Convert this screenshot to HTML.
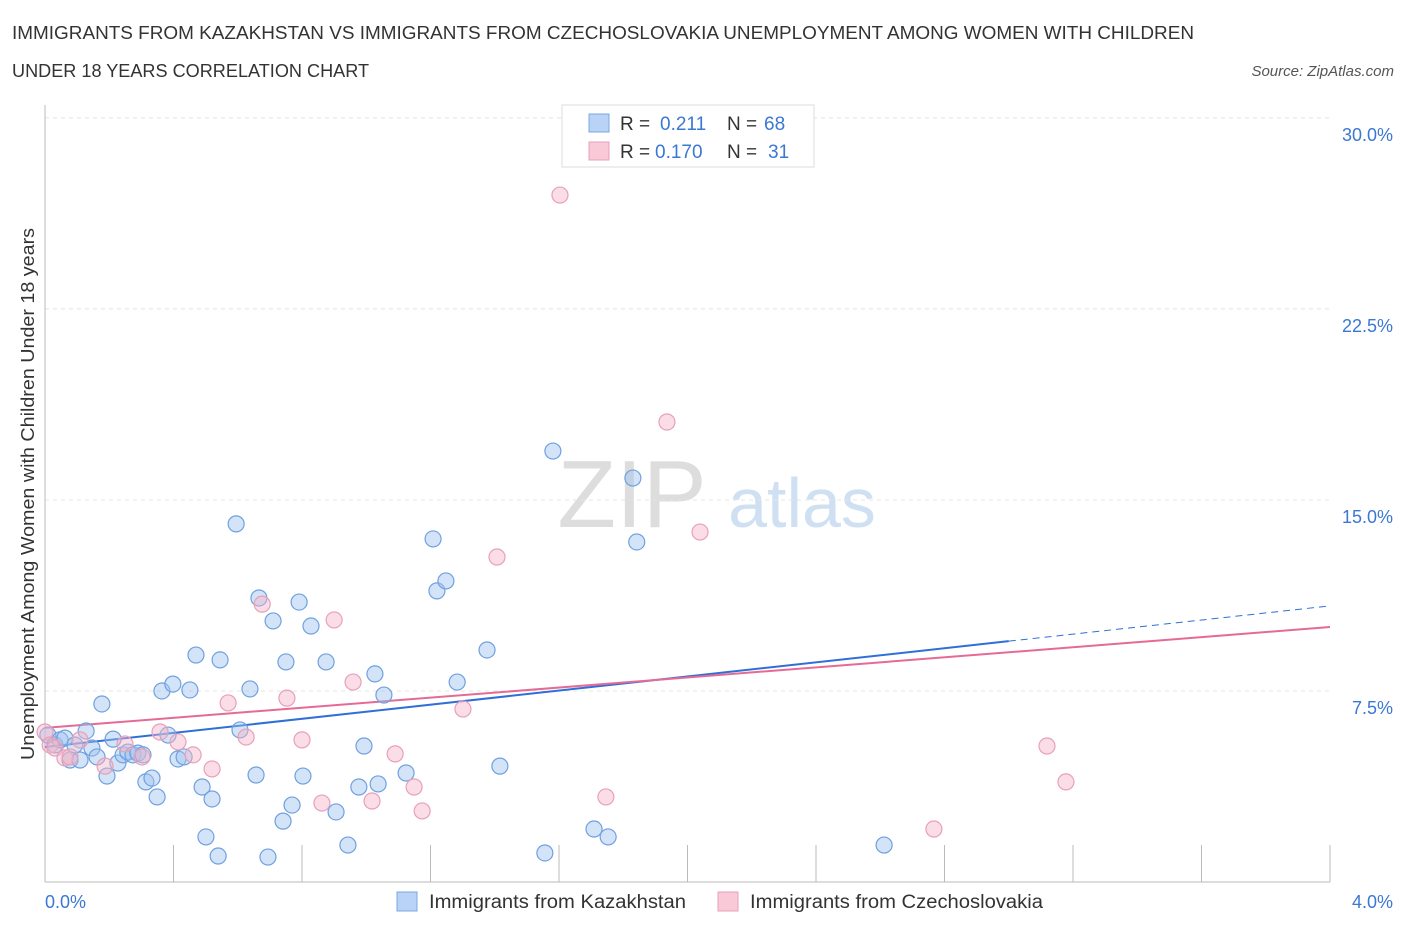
<!DOCTYPE html>
<html><head><meta charset="utf-8"><style>
body{margin:0;background:#fff;font-family:"Liberation Sans",sans-serif;}
svg text{font-family:"Liberation Sans",sans-serif;}
</style></head><body>
<svg id="chart" width="1406" height="930">
<text x="12" y="39" font-size="18" fill="#333" textLength="1182" lengthAdjust="spacingAndGlyphs">IMMIGRANTS FROM KAZAKHSTAN VS IMMIGRANTS FROM CZECHOSLOVAKIA UNEMPLOYMENT AMONG WOMEN WITH CHILDREN</text>
<text x="12" y="77" font-size="18" fill="#333" textLength="357" lengthAdjust="spacingAndGlyphs">UNDER 18 YEARS CORRELATION CHART</text>
<text x="1394" y="76" font-size="15" fill="#555" font-style="italic" text-anchor="end">Source: ZipAtlas.com</text>
<g>
<text x="632" y="527" font-size="96" fill="#ddd" font-family="Liberation Serif,serif" text-anchor="middle">ZIP</text>
<text x="802" y="527" font-size="70" fill="#cfe0f3" text-anchor="middle">atlas</text>
</g>
<g id="grid"></g><g id="axes"></g><g id="trends"></g><g id="points"></g>
<text x="34" y="494" font-size="18" fill="#333" text-anchor="middle" textLength="532" lengthAdjust="spacingAndGlyphs" transform="rotate(-90 34 494)">Unemployment Among Women with Children Under 18 years</text>
<g>
<rect x="562" y="105" width="252" height="62" fill="#fff" stroke="#ddd"/>
<rect x="589" y="114" width="20" height="18" fill="#b8d3f5" stroke="#7aa8e0"/>
<text x="620" y="130" font-size="19" fill="#333">R = </text><text x="660" y="130" font-size="19" fill="#3a78d4">0.211</text>
<text x="727" y="130" font-size="19" fill="#333">N = </text><text x="764" y="130" font-size="19" fill="#3a78d4">68</text>
<rect x="589" y="142" width="20" height="18" fill="#f9c9d8" stroke="#e8a0b8"/>
<text x="620" y="158" font-size="19" fill="#333">R = </text><text x="655" y="158" font-size="19" fill="#3a78d4">0.170</text>
<text x="727" y="158" font-size="19" fill="#333">N = </text><text x="768" y="158" font-size="19" fill="#3a78d4">31</text>
</g>
<g>
<rect x="397" y="892" width="20" height="19" fill="#b8d3f5" stroke="#7aa8e0"/>
<text x="429" y="908" font-size="19" fill="#333" textLength="257" lengthAdjust="spacingAndGlyphs">Immigrants from Kazakhstan</text>
<rect x="718" y="892" width="20" height="19" fill="#f9c9d8" stroke="#e8a0b8"/>
<text x="750" y="908" font-size="19" fill="#333" textLength="293" lengthAdjust="spacingAndGlyphs">Immigrants from Czechoslovakia</text>
</g>
</svg>
<script>
const blueX=[0.009,0.031,0.047,0.062,0.078,0.093,0.109,0.128,0.146,0.162,0.177,0.193,0.212,0.227,0.243,0.258,0.274,0.289,0.305,0.314,0.333,0.349,0.364,0.383,0.398,0.414,0.433,0.451,0.470,0.489,0.501,0.520,0.539,0.545,0.595,0.607,0.638,0.657,0.666,0.694,0.710,0.741,0.750,0.769,0.791,0.803,0.828,0.875,0.906,0.943,0.977,0.993,1.027,1.037,1.055,1.124,1.208,1.220,1.248,1.283,1.376,1.416,1.556,1.581,1.709,1.753,1.830,1.842,2.612];
const blueY=[5.77,5.38,5.58,5.65,4.79,5.38,4.79,5.93,5.26,4.91,6.99,4.16,5.61,4.67,4.99,5.10,4.99,5.06,4.99,3.93,4.08,3.34,7.50,5.77,7.77,4.83,4.91,7.54,8.91,3.73,1.77,3.26,1.02,8.72,14.06,5.97,7.58,4.20,11.15,0.98,10.25,2.39,8.64,3.02,10.99,4.16,10.05,8.64,2.75,1.45,3.73,5.34,8.17,3.85,7.34,4.28,13.47,11.43,11.82,7.85,9.11,4.55,1.14,16.92,2.08,1.77,15.86,13.35,1.45];
const pinkX=[0,0.016,0.031,0.062,0.078,0.109,0.187,0.249,0.302,0.358,0.414,0.461,0.520,0.570,0.626,0.676,0.753,0.800,0.862,0.900,0.959,1.018,1.090,1.149,1.174,1.301,1.407,1.603,1.746,1.936,2.039,2.767,3.119,3.178];
const pinkY=[5.89,5.38,5.26,4.87,4.91,5.58,4.55,5.42,4.91,5.89,5.50,4.99,4.44,7.03,5.69,10.91,7.22,5.58,3.10,10.29,7.85,3.18,5.03,3.73,2.79,6.79,12.76,26.97,3.34,18.06,13.74,2.08,5.34,3.93];
const blueTrend=[5.30,1.385]; // intercept, slope
const pinkTrend=[6.05,0.99];
const yTicks=[7.5,15,22.5,30];
const xTickVals=[0,0.4,0.8,1.2,1.6,2,2.4,2.8,3.2,3.6,4];
const NS="http://www.w3.org/2000/svg";
const X=v=>45+v*321.25, Y=v=>882-v*25.47;
function mk(t,a,p){const e=document.createElementNS(NS,t);for(const k in a)e.setAttribute(k,a[k]);p.appendChild(e);return e;}
const grid=document.getElementById('grid'),axes=document.getElementById('axes');
yTicks.forEach(v=>{
 const l=mk('line',{x1:45,x2:1330,y1:Y(v),y2:Y(v),stroke:'#e4e4e4','stroke-dasharray':'4,4'},grid);
 
 
 const t=mk('text',{x:1393,y:Y(v)+23,'font-size':18,fill:'#3a78d4','text-anchor':'end'},axes);
 t.textContent=v.toFixed(1)+'%';
 
 
});
mk('line',{x1:45,x2:45,y1:105,y2:882,stroke:'#bbb'},axes);
mk('line',{x1:45,x2:1330,y1:882,y2:882,stroke:'#bbb'},axes);
xTickVals.forEach((v,i)=>{if(i>0){const l=mk('line',{x1:X(v),x2:X(v),y1:845,y2:882,stroke:'#bbb'},axes);
 
 }});
let t0=mk('text',{x:45,y:908,'font-size':18,fill:'#3a78d4'},axes);t0.textContent='0.0%';


let t1=mk('text',{x:1393,y:908,'font-size':18,fill:'#3a78d4','text-anchor':'end'},axes);t1.textContent='4.0%';


const tr=document.getElementById('trends');
const f=(tp,x)=>tp[0]+tp[1]*x;
let a=mk('line',{x1:X(0),y1:Y(f(blueTrend,0)),x2:X(3.0),y2:Y(f(blueTrend,3.0)),stroke:'#2f6fd6','stroke-width':2},tr);


let b=mk('line',{x1:X(3.0),y1:Y(f(blueTrend,3.0)),x2:X(4),y2:Y(f(blueTrend,4)),stroke:'#2f6fd6','stroke-width':1,'stroke-dasharray':'7,5'},tr);


let c=mk('line',{x1:X(0),y1:Y(f(pinkTrend,0)),x2:X(4),y2:Y(f(pinkTrend,4)),stroke:'#e46b97','stroke-width':2},tr);


const pts=document.getElementById('points');
blueX.forEach((x,i)=>{const e=mk('circle',{cx:X(x),cy:Y(blueY[i]),r:8,fill:'rgba(160,196,240,0.45)',stroke:'#6fa0e0','stroke-width':1.2},pts);
 
 });
pinkX.forEach((x,i)=>{const e=mk('circle',{cx:X(x),cy:Y(pinkY[i]),r:8,fill:'rgba(245,180,200,0.45)',stroke:'#e8a0b8','stroke-width':1.2},pts);
 
 });
</script>
</body></html>
